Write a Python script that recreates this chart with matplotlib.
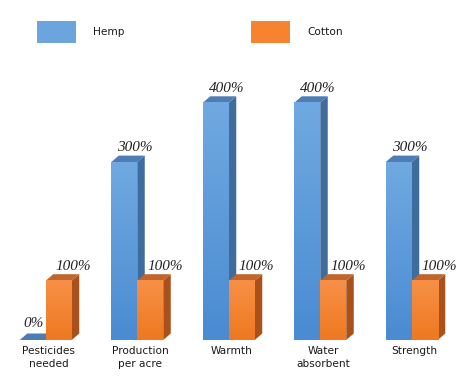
import numpy as np
import matplotlib
matplotlib.use("Agg")
import matplotlib.pyplot as plt
from matplotlib.patches import Polygon, Rectangle
from matplotlib.colors import LinearSegmentedColormap

categories = ["Pesticides\nneeded", "Production\nper acre", "Warmth", "Water\nabsorbent", "Strength"]
series_names = ["Hemp", "Cotton"]
hemp = [0, 300, 400, 400, 300]
cotton = [100, 100, 100, 100, 100]
value_labels_hemp = ["0%", "300%", "400%", "400%", "300%"]
value_labels_cotton = ["100%", "100%", "100%", "100%", "100%"]

W, H = 474, 384
fig = plt.figure(figsize=(W / 100, H / 100), dpi=100)
fig.patch.set_facecolor("white")

# axes geometry (pixels)
spacing_px = 91.5
unit_px = 59.3  # pixels per 100%
base_px = 44.0  # from bottom
ax = fig.add_axes([0.0, base_px / H, 5 * spacing_px / W, 5 * unit_px / H])
ax.set_xlim(-0.5, 4.5)
ax.set_ylim(0, 500)
ax.axis("off")

bw = 26 / spacing_px
dx = 7.5 / spacing_px
dy = 6.5 / unit_px * 100

styles = {
    "Hemp": dict(top_grad="#70A9E1", bot_grad="#4A8BD1", side="#3E6C9C", cap="#4D7DB2"),
    "Cotton": dict(top_grad="#F79047", bot_grad="#EF7820", side="#A9501B", cap="#C2652D"),
}

def draw_bar(x0, h, st, z):
    x1 = x0 + bw
    side = Polygon([(x1, 0), (x1 + dx, dy), (x1 + dx, h + dy), (x1, h)],
                   closed=True, facecolor=st["side"], edgecolor="none", zorder=z)
    cap = Polygon([(x0, h), (x0 + dx, h + dy), (x1 + dx, h + dy), (x1, h)],
                  closed=True, facecolor=st["cap"], edgecolor="none", zorder=z)
    ax.add_patch(side)
    ax.add_patch(cap)
    if h > 0:
        cmap = LinearSegmentedColormap.from_list("g", [st["bot_grad"], st["top_grad"]])
        grad = np.linspace(0, 1, 64).reshape(-1, 1)
        im = ax.imshow(grad, extent=[x0, x1, 0, h], origin="lower", cmap=cmap,
                       aspect="auto", zorder=z, interpolation="bilinear")
        im.set_clip_on(False)

xs = np.arange(len(categories))
for i in xs:
    draw_bar(i - bw, hemp[i], styles["Hemp"], 2)
    draw_bar(i, cotton[i], styles["Cotton"], 3)

ax.set_xlim(-0.5, 4.5)
ax.set_ylim(0, 500)

serif = dict(family="Liberation Serif", style="italic", size=11, color="#222222")
for i in xs:
    off_h = 11 if hemp[i] > 0 else 1
    ax.annotate(value_labels_hemp[i], xy=(i - bw / 2, hemp[i]),
                xytext=(off_h * 0.72, (11 if hemp[i] > 0 else 13) * 0.72),
                textcoords="offset points", ha="center", va="baseline", **serif, zorder=5)
    ax.annotate(value_labels_cotton[i], xy=(i + bw / 2, cotton[i]),
                xytext=(15 * 0.72, 11 * 0.72),
                textcoords="offset points", ha="center", va="baseline", **serif, zorder=5)
    ax.annotate(categories[i], xy=(i, 0), xytext=(3 * 0.72, -6 * 0.72),
                textcoords="offset points", ha="center", va="top",
                family="DejaVu Sans", size=7.6, color="#1a1a1a", linespacing=1.4)

# legend
leg_colors = ["#6CA4DE", "#F5832F"]
leg_x = [37, 251]
for name, c, lx in zip(series_names, leg_colors, leg_x):
    fig.patches.append(Rectangle((lx / W, 1 - 43 / H), 39 / W, 22 / H,
                                 transform=fig.transFigure, facecolor=c,
                                 edgecolor="none"))
    fig.text((lx + 56) / W, 1 - 32 / H, name, ha="left", va="center",
             family="DejaVu Sans", size=7.6, color="#1a1a1a")

fig.savefig("out.png", dpi=100, facecolor="white")
